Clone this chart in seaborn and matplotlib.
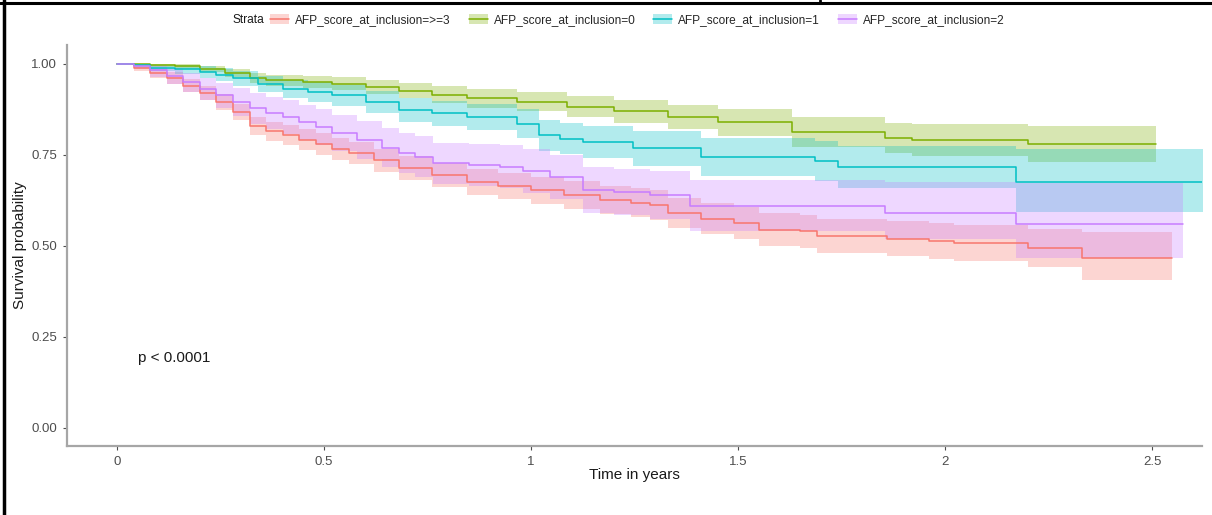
import pandas as pd
import matplotlib.pyplot as plt
import seaborn as sns
from matplotlib.lines import Line2D
from matplotlib.patches import Patch

sns.set_theme(style="white")
plt.rcParams['font.family'] = ['Liberation Sans', 'DejaVu Sans']

strata = ['AFP_score_at_inclusion=>=3', 'AFP_score_at_inclusion=0',
          'AFP_score_at_inclusion=1', 'AFP_score_at_inclusion=2']
colors = ['#F8766D', '#7CAE00', '#00BFC4', '#C77CFF']

# stratum >=3
t_3 = [0, 0.04, 0.08, 0.12, 0.16, 0.2, 0.24, 0.28, 0.32, 0.36, 0.40, 0.44, 0.48, 0.52, 0.56, 0.62,
       0.68, 0.76, 0.845, 0.92, 1.0, 1.08, 1.167, 1.24, 1.287, 1.33, 1.41, 1.49, 1.55, 1.65, 1.69,
       1.86, 1.96, 2.02, 2.2, 2.33, 2.548]
s_3 = [1.0, 0.99, 0.975, 0.962, 0.94, 0.92, 0.895, 0.868, 0.83, 0.815, 0.804, 0.792, 0.78, 0.767,
       0.755, 0.735, 0.714, 0.695, 0.676, 0.665, 0.653, 0.64, 0.626, 0.618, 0.612, 0.59, 0.575,
       0.563, 0.544, 0.54, 0.528, 0.52, 0.514, 0.508, 0.495, 0.468, 0.468]
lo_3 = [1.0, 0.98, 0.962, 0.946, 0.922, 0.90, 0.873, 0.845, 0.805, 0.789, 0.777, 0.764, 0.751,
        0.737, 0.724, 0.703, 0.681, 0.661, 0.641, 0.629, 0.616, 0.602, 0.587, 0.578, 0.571, 0.548,
        0.532, 0.519, 0.499, 0.494, 0.481, 0.472, 0.465, 0.458, 0.443, 0.405, 0.405]
hi_3 = [1.0, 1.0, 0.988, 0.978, 0.958, 0.94, 0.917, 0.891, 0.855, 0.841, 0.831, 0.82, 0.809,
        0.797, 0.786, 0.767, 0.747, 0.729, 0.711, 0.701, 0.69, 0.678, 0.665, 0.658, 0.653, 0.632,
        0.618, 0.607, 0.589, 0.586, 0.575, 0.568, 0.563, 0.558, 0.547, 0.538, 0.538]

# stratum 0
t_0 = [0, 0.08, 0.14, 0.2, 0.26, 0.32, 0.36, 0.45, 0.52, 0.6, 0.68, 0.76, 0.845, 0.966, 1.087,
       1.2, 1.33, 1.45, 1.63, 1.855, 1.92, 2.2, 2.51]
s_0 = [1.0, 0.997, 0.993, 0.987, 0.975, 0.962, 0.955, 0.95, 0.946, 0.936, 0.926, 0.915, 0.905,
       0.896, 0.882, 0.87, 0.854, 0.84, 0.813, 0.797, 0.79, 0.78, 0.78]
lo_0 = [1.0, 0.992, 0.986, 0.978, 0.964, 0.948, 0.94, 0.934, 0.929, 0.917, 0.905, 0.892, 0.88,
        0.87, 0.853, 0.839, 0.82, 0.803, 0.773, 0.755, 0.746, 0.73, 0.73]
hi_0 = [1.0, 1.0, 0.999, 0.995, 0.986, 0.975, 0.97, 0.966, 0.963, 0.955, 0.947, 0.938, 0.93,
        0.922, 0.911, 0.901, 0.888, 0.877, 0.853, 0.839, 0.834, 0.83, 0.83]

# stratum 1
t_1 = [0, 0.04, 0.08, 0.14, 0.2, 0.24, 0.28, 0.34, 0.4, 0.46, 0.52, 0.6, 0.68, 0.76, 0.845, 0.966,
       1.02, 1.07, 1.126, 1.246, 1.41, 1.686, 1.74, 2.17, 2.63]
s_1 = [1.0, 0.997, 0.99, 0.985, 0.978, 0.97, 0.96, 0.945, 0.932, 0.922, 0.914, 0.895, 0.873, 0.864,
       0.854, 0.836, 0.804, 0.795, 0.786, 0.768, 0.745, 0.733, 0.717, 0.676, 0.676]
lo_1 = [1.0, 0.99, 0.98, 0.972, 0.962, 0.952, 0.94, 0.922, 0.907, 0.895, 0.885, 0.864, 0.84, 0.83,
        0.818, 0.797, 0.762, 0.752, 0.742, 0.72, 0.693, 0.678, 0.66, 0.594, 0.594]
hi_1 = [1.0, 1.0, 0.998, 0.996, 0.993, 0.988, 0.98, 0.968, 0.957, 0.949, 0.943, 0.926, 0.906, 0.898,
        0.89, 0.875, 0.846, 0.838, 0.83, 0.816, 0.797, 0.788, 0.774, 0.766, 0.766]

# stratum 2
t_2 = [0, 0.04, 0.08, 0.12, 0.16, 0.2, 0.24, 0.28, 0.32, 0.36, 0.40, 0.44, 0.48, 0.52, 0.58, 0.64,
       0.68, 0.72, 0.764, 0.85, 0.925, 0.98, 1.046, 1.126, 1.2, 1.287, 1.384, 1.855, 2.17, 2.575]
s_2 = [1.0, 0.995, 0.982, 0.966, 0.95, 0.932, 0.914, 0.896, 0.878, 0.866, 0.854, 0.84, 0.827, 0.81,
       0.79, 0.77, 0.755, 0.745, 0.727, 0.722, 0.717, 0.705, 0.69, 0.653, 0.648, 0.64, 0.61, 0.59,
       0.56, 0.56]
lo_2 = [1.0, 0.985, 0.965, 0.944, 0.924, 0.902, 0.88, 0.858, 0.836, 0.822, 0.808, 0.792, 0.778,
        0.76, 0.738, 0.716, 0.70, 0.689, 0.67, 0.664, 0.658, 0.645, 0.629, 0.59, 0.584, 0.575, 0.54,
        0.52, 0.467, 0.467]
hi_2 = [1.0, 1.0, 0.995, 0.988, 0.976, 0.962, 0.948, 0.934, 0.92, 0.91, 0.90, 0.888, 0.876, 0.86,
        0.842, 0.824, 0.81, 0.801, 0.784, 0.78, 0.776, 0.765, 0.751, 0.716, 0.712, 0.705, 0.68,
        0.675, 0.673, 0.673]

curves = [(t_3, s_3, lo_3, hi_3), (t_0, s_0, lo_0, hi_0),
          (t_1, s_1, lo_1, hi_1), (t_2, s_2, lo_2, hi_2)]

frames = []
for name, (t, s, lo, hi) in zip(strata, curves):
    frames.append(pd.DataFrame({'time': t, 'surv': s, 'lower': lo, 'upper': hi, 'strata': name}))
df = pd.concat(frames, ignore_index=True)

fig = plt.figure(figsize=(12.12, 5.15), dpi=100)
ax = fig.add_axes([67 / 1212, 1 - 446 / 515, (1202 - 67) / 1212, (446 - 45) / 515])

for name, col in zip(strata, colors):
    d = df[df['strata'] == name]
    ax.fill_between(d['time'], d['lower'], d['upper'], step='post', color=col, alpha=0.3, lw=0)

sns.lineplot(data=df, x='time', y='surv', hue='strata', hue_order=strata, palette=colors,
             estimator=None, sort=False, drawstyle='steps-post', linewidth=1.1, legend=False, ax=ax)

ax.set_xlim(-0.121, 2.62)
ax.set_ylim(-0.05, 1.052)
ax.set_xticks([0, 0.5, 1, 1.5, 2, 2.5])
ax.set_xticklabels(['0', '0.5', '1', '1.5', '2', '2.5'])
ax.set_yticks([0, 0.25, 0.5, 0.75, 1.0])
ax.set_yticklabels(['0.00', '0.25', '0.50', '0.75', '1.00'])
ax.tick_params(axis='both', labelsize=9.5, labelcolor='#4D4D4D', color='#4D4D4D',
               length=3, width=0.8, direction='out', bottom=True, left=True, pad=4)
for side in ['top', 'right']:
    ax.spines[side].set_visible(False)
for side in ['left', 'bottom']:
    ax.spines[side].set_color('#A6A6A6')
    ax.spines[side].set_linewidth(1.6)

ax.set_xlabel('Time in years', fontsize=11, color='#1A1A1A', labelpad=0)
ax.set_ylabel('Survival probability', fontsize=11, color='#1A1A1A', labelpad=3)
ax.text(0.05, 0.193, 'p < 0.0001', fontsize=11, color='#1A1A1A', va='center', ha='left')

# legend on top
handles = [(Patch(facecolor=c, alpha=0.3, lw=0), Line2D([], [], color=c, lw=1.1)) for c in colors]
fig.text(232 / 1212, 1 - 20 / 515, 'Strata', fontsize=8.6, color='#1A1A1A', va='center', ha='left')
fig.legend(handles, strata, loc='center left', bbox_to_anchor=(270 / 1212, 1 - 20 / 515),
           ncol=4, frameon=False, fontsize=8.6, handlelength=1.6, handleheight=0.9,
           handletextpad=0.5, columnspacing=1.5, borderpad=0, borderaxespad=0)

# page frame lines
fig.add_artist(Line2D([0, 1], [1 - 3 / 515, 1 - 3 / 515], color='black', lw=2.2, transform=fig.transFigure))
fig.add_artist(Line2D([4 / 1212, 4 / 1212], [0, 1], color='black', lw=2.5, transform=fig.transFigure))
fig.add_artist(Line2D([820 / 1212, 820 / 1212], [1 - 3 / 515, 1], color='black', lw=2, transform=fig.transFigure))

fig.savefig('out.png', dpi=100)
